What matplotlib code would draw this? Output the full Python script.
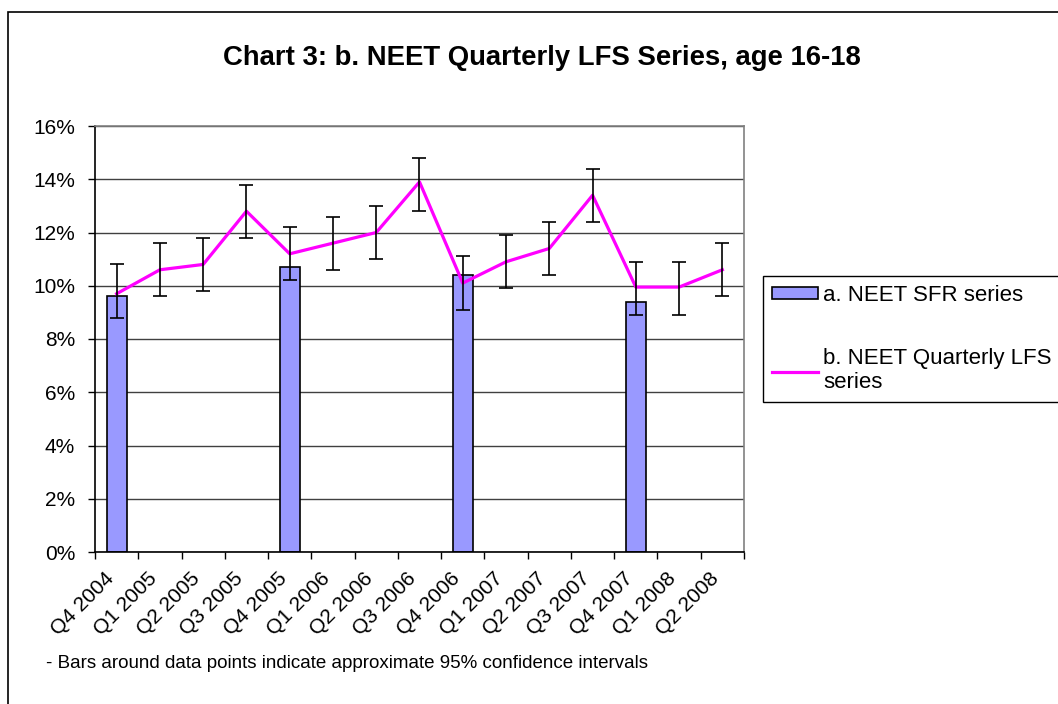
import numpy as np
import matplotlib.pyplot as plt
from matplotlib.patches import Rectangle
from matplotlib.transforms import ScaledTranslation

plt.rcParams['font.family'] = ['Liberation Sans', 'DejaVu Sans']

quarters = ['Q4 2004', 'Q1 2005', 'Q2 2005', 'Q3 2005', 'Q4 2005', 'Q1 2006', 'Q2 2006',
            'Q3 2006', 'Q4 2006', 'Q1 2007', 'Q2 2007', 'Q3 2007', 'Q4 2007', 'Q1 2008', 'Q2 2008']

# a. NEET SFR series (end of year only), in %
sfr = [9.6, np.nan, np.nan, np.nan, 10.7, np.nan, np.nan, np.nan,
       10.4, np.nan, np.nan, np.nan, 9.4, np.nan, np.nan]

# b. NEET Quarterly LFS series, in %
lfs = [9.7, 10.6, 10.8, 12.8, 11.2, 11.6, 12.0, 13.9, 10.1, 10.9, 11.4, 13.4, 9.95, 9.95, 10.6]
ci_low = [8.8, 9.6, 9.8, 11.8, 10.2, 10.6, 11.0, 12.8, 9.1, 9.9, 10.4, 12.4, 8.9, 8.9, 9.6]
ci_high = [10.8, 11.6, 11.8, 13.8, 12.2, 12.6, 13.0, 14.8, 11.1, 11.9, 12.4, 14.4, 10.9, 10.9, 11.6]

W, H = 1058, 704
fig = plt.figure(figsize=(W / 100, H / 100), dpi=100)
ax = fig.add_axes([95 / W, 1 - 552 / H, 649 / W, 426 / H])

x = np.arange(len(quarters))
lfs = np.array(lfs)
yerr = [lfs - np.array(ci_low), np.array(ci_high) - lfs]

bars = ax.bar(x, sfr, width=0.46, color='#9999FF', edgecolor='black', linewidth=1.2,
              zorder=2, label='a. NEET SFR series')
line, = ax.plot(x, lfs, color='#FF00FF', lw=2.3, zorder=3,
                label='b. NEET Quarterly LFS\nseries')
ax.errorbar(x, lfs, yerr=yerr, fmt='none', ecolor='black', elinewidth=1.2,
            capsize=4.7, capthick=1.2, zorder=4)

ax.set_xlim(-0.5, len(quarters) - 0.5)
ax.set_ylim(0, 16)
ax.set_yticks(np.arange(0, 17, 2))
ax.set_yticklabels([f'{v}%' for v in range(0, 17, 2)], fontsize=15)
ax.yaxis.grid(True, color='#404040', lw=1)
ax.set_axisbelow(True)

ax.set_xticks(np.arange(-0.5, len(quarters)), labels=[])
ax.set_xticks(x, minor=True)
ax.set_xticklabels(quarters, minor=True, rotation=45, ha='right', va='center',
                   rotation_mode='anchor', fontsize=15)
ax.tick_params(axis='x', which='minor', length=0, pad=17)
ax.tick_params(axis='x', which='major', length=5, direction='out', width=1)
ax.tick_params(axis='y', length=5, direction='out', width=1, pad=9.4)
shift = ScaledTranslation(-6 / 100, 0, fig.dpi_scale_trans)
for lab in ax.get_xticklabels(minor=True):
    lab.set_transform(lab.get_transform() + shift)

for s in ['left', 'bottom']:
    ax.spines[s].set_color('black')
    ax.spines[s].set_linewidth(1.2)
for s in ['top', 'right']:
    ax.spines[s].set_color('#808080')
    ax.spines[s].set_linewidth(1.2)

fig.text(542 / W, 1 - 58 / H, 'Chart 3: b. NEET Quarterly LFS Series, age 16-18',
         ha='center', va='center', fontsize=19.8, fontweight='bold')
fig.text(46 / W, 1 - 664 / H,
         '- Bars around data points indicate approximate 95% confidence intervals',
         ha='left', va='center', fontsize=13.5)

leg = fig.legend(handles=[bars, line], loc='upper left',
                 bbox_to_anchor=(763 / W, 1 - 276 / H), fontsize=16,
                 frameon=True, fancybox=False, edgecolor='black', framealpha=1,
                 handlelength=2.07, handleheight=0.5, handletextpad=0.25,
                 labelspacing=1.9, borderpad=0.4, borderaxespad=0)
leg.get_frame().set_linewidth(1)

fig.patches.append(Rectangle((8 / W, -0.05), 1.2, 1 - 12 / H + 0.05,
                             transform=fig.transFigure, fill=False,
                             edgecolor='black', lw=1.2))

fig.savefig('out.png', dpi=100)
